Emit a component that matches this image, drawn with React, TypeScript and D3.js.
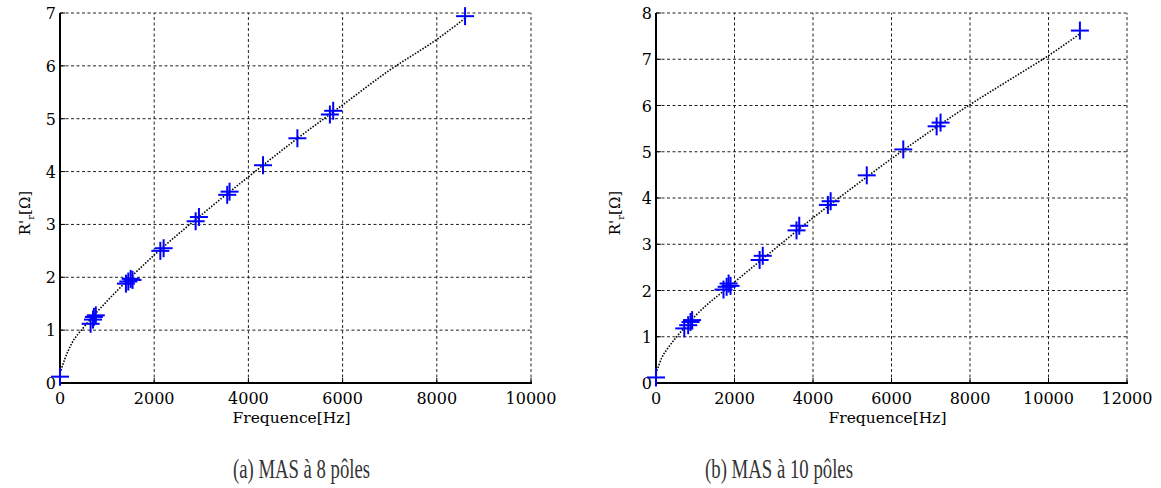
import React from "react";
import * as d3 from "d3";

// ---- Data: (a) MAS à 8 pôles ----
const freqA = [0, 650, 700, 720, 760, 1400, 1450, 1500, 1540, 2130, 2200, 2880, 2950, 3550, 3600, 4310, 5040, 5730, 5800, 8600];
const resA = [0.12, 1.12, 1.2, 1.25, 1.28, 1.88, 1.92, 1.97, 1.95, 2.5, 2.55, 3.06, 3.14, 3.56, 3.62, 4.12, 4.63, 5.08, 5.15, 6.94];
const fitFreqA = [0, 100, 250, 500, 1000, 1500, 2000, 3000, 4000, 5000, 6000, 7000, 8000, 8600];
const fitResA = [0.18, 0.45, 0.75, 1.05, 1.55, 2.0, 2.42, 3.18, 3.9, 4.6, 5.26, 5.92, 6.5, 6.9];
const xTicksA = [0, 2000, 4000, 6000, 8000, 10000];
const yTicksA = [0, 1, 2, 3, 4, 5, 6, 7];

// ---- Data: (b) MAS à 10 pôles ----
const freqB = [0, 720, 820, 880, 920, 1720, 1800, 1850, 1900, 2640, 2720, 3580, 3650, 4380, 4450, 5370, 6300, 7150, 7250, 10800];
const resB = [0.12, 1.18, 1.25, 1.32, 1.36, 2.02, 2.08, 2.15, 2.1, 2.66, 2.75, 3.3, 3.4, 3.85, 3.93, 4.49, 5.05, 5.55, 5.63, 7.62];
const fitFreqB = [0, 150, 300, 500, 1000, 2000, 3000, 4000, 5000, 6000, 7000, 8000, 9000, 10000, 10800];
const fitResB = [0.2, 0.55, 0.75, 0.97, 1.45, 2.18, 2.88, 3.57, 4.22, 4.85, 5.45, 6.02, 6.55, 7.08, 7.55];
const xTicksB = [0, 2000, 4000, 6000, 8000, 10000, 12000];
const yTicksB = [0, 1, 2, 3, 4, 5, 6, 7, 8];

const xLabel = "Frequence[Hz]";
const captionA = "(a) MAS à 8 pôles";
const captionB = "(b) MAS à 10 pôles";

const tickFont = "DejaVu Serif";

type PanelProps = {
  left: number;
  right: number;
  top: number;
  bottom: number;
  xMax: number;
  yMax: number;
  xTicks: number[];
  yTicks: number[];
  freq: number[];
  res: number[];
  fitF: number[];
  fitR: number[];
  yLabelX: number;
};

function Panel(p: PanelProps) {
  const x = d3.scaleLinear().domain([0, p.xMax]).range([p.left, p.right]);
  const y = d3.scaleLinear().domain([0, p.yMax]).range([p.bottom, p.top]);
  const fit = p.fitF.map((f, i) => [f, p.fitR[i]] as [number, number]);
  const line = d3
    .line<[number, number]>()
    .x((d) => x(d[0]))
    .y((d) => y(d[1]))
    .curve(d3.curveMonotoneX);
  const arm = 9;
  const yMid = (p.top + p.bottom) / 2;
  return (
    <g>
      {p.xTicks.filter((t) => t > 0).map((t) => (
        <line key={"gx" + t} x1={x(t)} x2={x(t)} y1={p.bottom} y2={p.top}
          stroke="#222" strokeWidth={1} strokeDasharray="3,2.5" />
      ))}
      {p.yTicks.filter((t) => t > 0).map((t) => (
        <line key={"gy" + t} x1={p.left} x2={p.right} y1={y(t)} y2={y(t)}
          stroke="#222" strokeWidth={1} strokeDasharray="3,2.5" />
      ))}
      {p.xTicks.map((t) => (
        <line key={"tx" + t} x1={x(t)} x2={x(t)} y1={p.bottom} y2={p.bottom - 5} stroke="#000" strokeWidth={1} />
      ))}
      {p.yTicks.map((t) => (
        <line key={"ty" + t} x1={p.left} x2={p.left + 5} y1={y(t)} y2={y(t)} stroke="#000" strokeWidth={1} />
      ))}
      <line x1={p.left} x2={p.left} y1={p.bottom + 1} y2={p.top} stroke="#000" strokeWidth={2} />
      <line x1={p.left - 1} x2={p.right + 1} y1={p.bottom} y2={p.bottom} stroke="#000" strokeWidth={2} />
      {p.xTicks.map((t) => (
        <text key={"lx" + t} x={x(t)} y={p.bottom + 21} textAnchor="middle"
          fontFamily={tickFont} fontSize={16} fill="#000">{t}</text>
      ))}
      {p.yTicks.map((t) => (
        <text key={"ly" + t} x={p.left - 4} y={y(t) + 6} textAnchor="end"
          fontFamily={tickFont} fontSize={16} fill="#000">{t}</text>
      ))}
      <path d={line(fit) || ""} fill="none" stroke="#000" strokeWidth={1.6} strokeDasharray="1.5,1.5" />
      {p.freq.map((f, i) => (
        <g key={"m" + i} stroke="#0000ff" strokeWidth={2}>
          <line x1={x(f) - arm} x2={x(f) + arm} y1={y(p.res[i])} y2={y(p.res[i])} />
          <line x1={x(f)} x2={x(f)} y1={y(p.res[i]) - arm} y2={y(p.res[i]) + arm} />
        </g>
      ))}
      <text x={(p.left + p.right) / 2 - 4} y={p.bottom + 40} textAnchor="middle"
        fontFamily={tickFont} fontSize={15.5} fill="#000">{xLabel}</text>
      <text transform={`translate(${p.yLabelX},${yMid + 15}) rotate(-90)`} textAnchor="middle"
        fontFamily={tickFont} fontSize={15} fill="#000">
        R'<tspan fontSize={10} dy={4}>r</tspan><tspan dy={-4}>[Ω]</tspan>
      </text>
    </g>
  );
}

export default function App() {
  return (
    <svg width={1161} height={488} style={{ position: "absolute", left: 0, top: 0, background: "#fff" }}>
      <rect x={0} y={0} width={1161} height={488} fill="#fff" />
      <Panel left={60} right={531} top={13} bottom={383} xMax={10000} yMax={7}
        xTicks={xTicksA} yTicks={yTicksA} freq={freqA} res={resA}
        fitF={fitFreqA} fitR={fitResA} yLabelX={30} />
      <Panel left={656} right={1127} top={13} bottom={383} xMax={12000} yMax={8}
        xTicks={xTicksB} yTicks={yTicksB} freq={freqB} res={resB}
        fitF={fitFreqB} fitR={fitResB} yLabelX={620} />
      <text x={233} y={478} fontFamily="Liberation Serif" fontSize={28} fill="#333"
        textLength={137} lengthAdjust="spacingAndGlyphs">{captionA}</text>
      <text x={705} y={478} fontFamily="Liberation Serif" fontSize={28} fill="#333"
        textLength={148} lengthAdjust="spacingAndGlyphs">{captionB}</text>
    </svg>
  );
}
